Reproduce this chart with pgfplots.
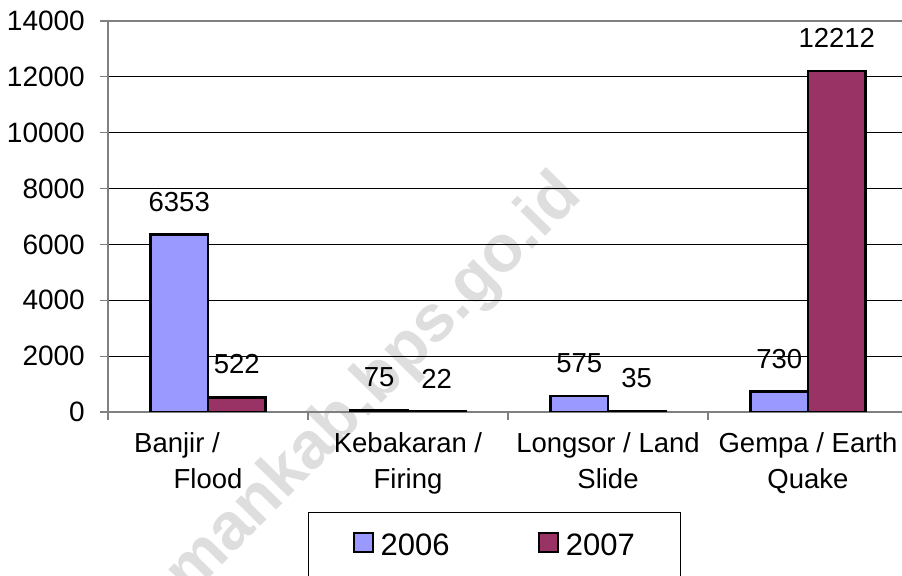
\documentclass[border=0pt]{standalone}
\usepackage{pgfplots}
\pgfplotsset{compat=1.18}
\usepackage{fontspec}
\setmainfont{Liberation Sans}
\definecolor{cA}{HTML}{9999FF}
\definecolor{cB}{HTML}{993366}
\definecolor{axgray}{HTML}{808080}
\pgfplotsset{sqlegend/.style={legend image code/.code={\draw[##1, line width=2.2bp] (0bp,-7bp) rectangle (19bp,12bp);}}}
\begin{document}
\begin{tikzpicture}
\path[use as bounding box] (0,0) rectangle (902bp,576bp);
\node[rotate=45.5, text=black!13, font=\bfseries\fontsize{66bp}{66bp}\selectfont] at (348bp,163bp) {pemankab.bps.go.id};
\begin{axis}[
 at={(108bp,164bp)}, anchor=south west,
 scale only axis, width=800bp, height=391bp,
 xmin=-0.5, xmax=3.5, ymin=0, ymax=14000,
 axis x line*=bottom, axis y line*=left,
 axis line style={axgray, line width=2bp},
 ytick={0,2000,...,14000},
 scaled y ticks=false,
 /pgf/number format/.cd, fixed, precision=0, 1000 sep={}, assume math mode=true, /pgfplots/.cd,
 ymajorgrids, major grid style={black, line width=0.8bp},
 tick align=outside,
 major tick length=8bp,
 minor tick length=8bp,
 ytick style={axgray, line width=1.2bp},
 xtick={0,1,2,3},
 major x tick style={draw=none},
 minor xtick={-0.5,0.5,1.5,2.5},
 minor x tick style={axgray, line width=1.2bp},
 xticklabels={{Banjir /\hspace*{62bp}\\Flood},{Kebakaran /\\Firing},{Longsor / Land\\Slide},{Gempa / Earth\\Quake}},
 xticklabel style={align=center, font=\fontsize{27.5bp}{36bp}\selectfont, inner sep=0pt, yshift=-12bp},
 yticklabel style={font=\fontsize{28bp}{32bp}\selectfont, inner sep=0pt, xshift=-15bp},
 ybar, bar width=57.5bp,
 nodes near coords,
 every node near coord/.append style={font=\fontsize{27.5bp}{32bp}\selectfont, inner sep=0pt, yshift=22bp, text=black},
 legend columns=2,
 legend style={at={(0.25,-0.2558)}, anchor=north west, draw=black, line width=1bp,
   inner xsep=44bp, inner ysep=19bp,
   font=\fontsize{31bp}{35bp}\selectfont,
   /tikz/every even column/.append style={column sep=86bp},
   /tikz/every odd column/.append style={column sep=5bp}},
]
\addplot[fill=cA, draw=black, line width=2.5bp, bar shift=-28.75bp, sqlegend] coordinates {(0,6353) (1,75) (2,575) (3,730)};
\addplot[fill=cB, draw=black, line width=2.5bp, bar shift=28.75bp, sqlegend] coordinates {(0,522) (1,22) (2,35) (3,12212)};
\legend{2006,2007}
\end{axis}
\draw[axgray, line width=2bp] (108bp,555bp) -- (902bp,555bp);
\end{tikzpicture}
\end{document}
